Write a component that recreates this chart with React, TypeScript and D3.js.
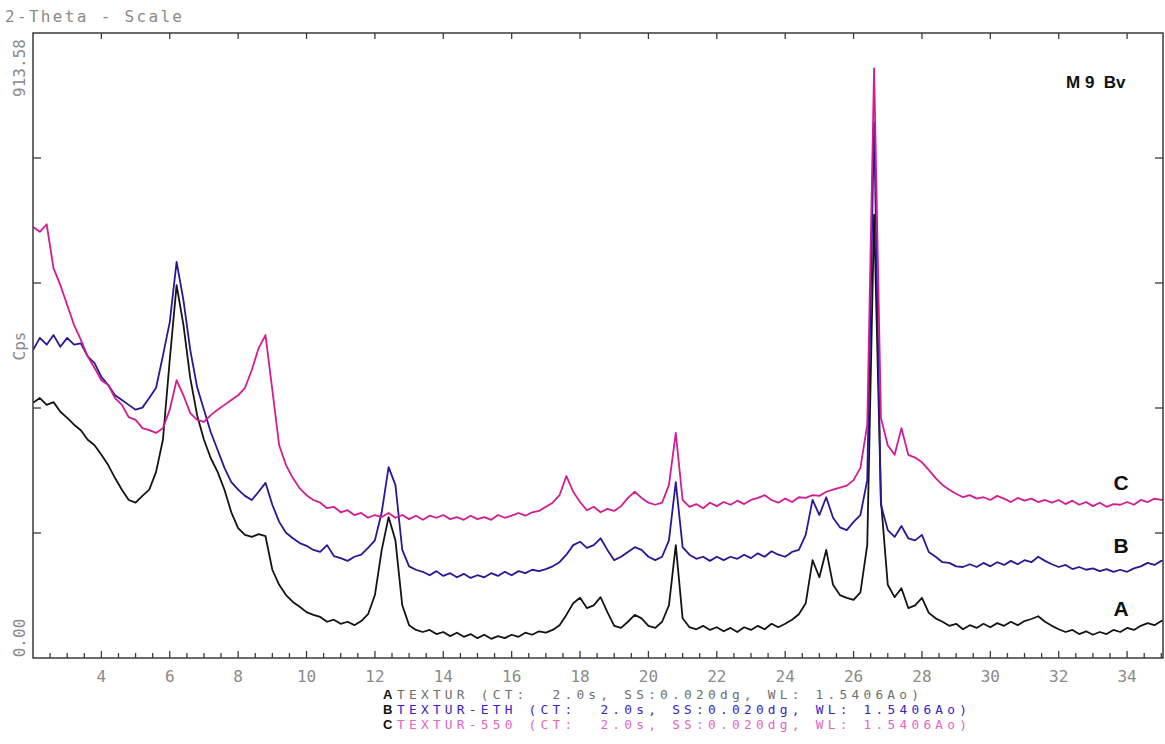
import React from "react";
import * as d3 from "d3";

// 2-theta grid (degrees)
const THETA_START = 2.0;
const THETA_STEP = 0.2;

// Intensities (Cps), one value per grid step, grouped by whole degree
const seriesA = [
  373, 380, 370, 374, 360,
  351, 341, 333, 319, 311,
  297, 282, 263, 246, 231,
  227, 237, 246, 272, 319,
  436, 545, 487, 409, 355,
  319, 292, 272, 246, 213,
  190, 180, 177, 181, 178,
  129, 107, 92, 82, 75,
  67, 63, 60, 53, 56,
  50, 53, 48, 54, 64,
  92, 158, 206, 172, 77,
  48, 41, 38, 41, 35,
  38, 32, 37, 31, 35,
  29, 34, 28, 32, 29,
  34, 31, 37, 34, 39,
  37, 41, 48, 63, 80,
  88, 73, 77, 89, 67,
  47, 44, 53, 63, 58,
  47, 44, 53, 77, 165,
  58, 45, 42, 47, 41,
  45, 39, 44, 38, 45,
  41, 47, 42, 50, 45,
  50, 56, 64, 80, 143,
  118, 158, 107, 92, 88,
  85, 96, 165, 648, 231,
  107, 89, 102, 73, 77,
  88, 66, 58, 53, 47,
  50, 42, 48, 44, 50,
  45, 51, 47, 53, 48,
  54, 57, 61, 53, 47,
  42, 38, 41, 35, 39,
  34, 38, 35, 41, 38,
  44, 41, 47, 51, 48,
  54, 56,
];

const seriesB = [
  450, 468, 458, 472, 455,
  468, 458, 460, 441, 431,
  411, 399, 384, 377, 370,
  363, 366, 380, 395, 442,
  491, 579, 523, 450, 396,
  363, 330, 304, 278, 257,
  246, 237, 231, 243, 256,
  224, 199, 183, 175, 168,
  164, 158, 155, 165, 149,
  146, 142, 148, 151, 161,
  172, 213, 279, 253, 158,
  134, 129, 126, 121, 127,
  120, 124, 118, 123, 117,
  121, 118, 124, 120, 126,
  121, 127, 124, 129, 127,
  130, 134, 140, 151, 165,
  170, 161, 165, 175, 158,
  143, 148, 155, 162, 158,
  148, 143, 148, 172, 257,
  162, 151, 145, 148, 142,
  148, 143, 148, 145, 151,
  146, 153, 148, 156, 151,
  148, 155, 158, 180, 231,
  209, 235, 205, 191, 187,
  199, 209, 260, 783, 224,
  187, 177, 193, 175, 172,
  180, 155, 148, 140, 139,
  134, 133, 137, 133, 139,
  134, 140, 136, 142, 137,
  143, 140, 148, 142, 137,
  133, 136, 130, 133, 129,
  131, 127, 130, 126, 129,
  126, 131, 134, 139, 136,
  142, 143,
];

const seriesC = [
  630, 623, 634, 570, 545,
  516, 487, 465, 441, 424,
  406, 399, 380, 370, 352,
  348, 336, 333, 329, 336,
  363, 406, 384, 358, 348,
  345, 355, 363, 370, 377,
  384, 395, 421, 453, 472,
  392, 311, 282, 263, 248,
  238, 231, 227, 219, 221,
  213, 216, 209, 212, 205,
  209, 206, 212, 205, 209,
  203, 208, 202, 208, 205,
  209, 203, 206, 202, 208,
  203, 206, 202, 209, 205,
  208, 212, 208, 213, 215,
  221, 227, 238, 266, 243,
  228, 216, 221, 213, 218,
  215, 222, 234, 243, 234,
  227, 224, 227, 253, 329,
  231, 221, 225, 219, 227,
  222, 228, 224, 230, 225,
  231, 234, 238, 231, 227,
  233, 228, 235, 234, 238,
  237, 243, 246, 249, 252,
  260, 278, 341, 862, 351,
  311, 297, 336, 297, 293,
  286, 275, 263, 253, 246,
  240, 235, 238, 233, 235,
  231, 237, 233, 228, 234,
  230, 233, 228, 231, 227,
  231, 225, 230, 224, 228,
  222, 227, 221, 225, 224,
  228, 224, 231, 228, 233,
  231, 234,
];

const xLabels = [4, 6, 8, 10, 12, 14, 16, 18, 20, 22, 24, 26, 28, 30, 32, 34];
const yMax = 913.58;
const seriesNames = ["A", "B", "C"];
const legendTexts = [
  "TEXTUR (CT:  2.0s, SS:0.020dg, WL: 1.5406Ao)",
  "TEXTUR-ETH (CT:  2.0s, SS:0.020dg, WL: 1.5406Ao)",
  "TEXTUR-550 (CT:  2.0s, SS:0.020dg, WL: 1.5406Ao)",
];

const LINE_COLORS = ["#141414", "#2a1796", "#d11c93"];
const LEGEND_COLORS = ["#6e6e6e", "#3a22c4", "#e066c4"];
const GRAY = "#8a8a8a";
const MONO = "'DejaVu Sans Mono', monospace";
const SANS = "'Liberation Sans', Arial, sans-serif";

export default function App() {
  const L = 33, R = 1163, T = 33, B = 658;
  const x = d3.scaleLinear().domain([2, 35.05]).range([L, R]);
  const y = d3.scaleLinear().domain([0, yMax]).range([B, T]);
  const theta = (i: number) => THETA_START + i * THETA_STEP;
  const line = d3
    .line<number>()
    .x((_, i) => x(theta(i)))
    .y((d) => y(d));

  const minorTicks = d3.range(2.5, 35.01, 0.5);
  const yTicks = d3.range(1, 5).map((i) => (i * yMax) / 5);
  const series = [seriesA, seriesB, seriesC];
  const legendLengths = [522, 570, 570];

  return (
    <svg
      width={1165}
      height={744}
      style={{ position: "absolute", left: 0, top: 0, background: "#fff" }}
    >
      <defs>
        <clipPath id="plot">
          <rect x={L} y={T - 2} width={R - L} height={B - T + 2} />
        </clipPath>
      </defs>
      <rect x={0} y={0} width={1165} height={744} fill="#fff" />

      <text x={5} y={22} fontFamily={MONO} fontSize={16} fill={GRAY} textLength={177} lengthAdjust="spacing">
        2-Theta - Scale
      </text>

      {/* series */}
      <g clipPath="url(#plot)">
        {series.map((s, k) => (
          <path
            key={k}
            d={line(s) || ""}
            fill="none"
            stroke={LINE_COLORS[k]}
            strokeWidth={1.8}
            strokeLinejoin="round"
          />
        ))}
      </g>

      {/* frame */}
      <rect x={L} y={T} width={R - L} height={B - T} fill="none" stroke="#3a3a3a" strokeWidth={1.5} />

      {/* bottom ticks */}
      {minorTicks.map((t) => (
        <line
          key={"m" + t}
          x1={x(t)}
          x2={x(t)}
          y1={B}
          y2={B - (t % 2 === 0 ? 7 : 5)}
          stroke="#3a3a3a"
          strokeWidth={1.3}
        />
      ))}
      {/* top ticks */}
      {xLabels.map((t) => (
        <line key={"t" + t} x1={x(t)} x2={x(t)} y1={T} y2={T + 6} stroke="#3a3a3a" strokeWidth={1.3} />
      ))}
      {/* y ticks left/right */}
      {yTicks.map((v, i) => (
        <g key={"y" + i}>
          <line x1={L} x2={L + 8} y1={y(v)} y2={y(v)} stroke="#3a3a3a" strokeWidth={1.3} />
          <line x1={R} x2={R - 8} y1={y(v)} y2={y(v)} stroke="#3a3a3a" strokeWidth={1.3} />
        </g>
      ))}

      {/* x labels */}
      {xLabels.map((t) => (
        <text
          key={"xl" + t}
          x={x(t)}
          y={682}
          textAnchor="middle"
          fontFamily={MONO}
          fontSize={16}
          fill={GRAY}
        >
          {t}
        </text>
      ))}

      {/* y labels (rotated) */}
      <text
        transform={`translate(19, ${y(yMax) + 35}) rotate(-90)`}
        textAnchor="middle"
        dominantBaseline="central"
        fontFamily={MONO}
        fontSize={16}
        fill={GRAY}
      >
        {yMax.toFixed(2)}
      </text>
      <text
        transform={`translate(19, ${y(0) - 20}) rotate(-90)`}
        textAnchor="middle"
        dominantBaseline="central"
        fontFamily={MONO}
        fontSize={16}
        fill={GRAY}
      >
        {(0).toFixed(2)}
      </text>
      <text
        transform="translate(19, 346) rotate(-90)"
        textAnchor="middle"
        dominantBaseline="central"
        fontFamily={MONO}
        fontSize={16}
        fill={GRAY}
      >
        Cps
      </text>

      {/* sample label */}
      <text
        x={1066}
        y={88}
        fontFamily={SANS}
        fontWeight="bold"
        fontSize={17}
        fill="#111"
        style={{ whiteSpace: "pre" }}
      >
        M 9  Bv
      </text>

      {/* curve letters */}
      {seriesNames.map((n, k) => (
        <text
          key={"cl" + n}
          x={1121}
          y={[616, 553, 490][k]}
          textAnchor="middle"
          fontFamily={SANS}
          fontWeight="bold"
          fontSize={21}
          fill="#111"
        >
          {n}
        </text>
      ))}

      {/* legend */}
      {seriesNames.map((n, k) => (
        <g key={"lg" + n}>
          <text x={383} y={699 + k * 15} fontFamily={SANS} fontWeight="bold" fontSize={13} fill="#111">
            {n}
          </text>
          <text
            x={397}
            y={699 + k * 15}
            fontFamily={MONO}
            fontSize={12.8}
            fill={LEGEND_COLORS[k]}
            textLength={legendLengths[k]}
            lengthAdjust="spacing"
            style={{ whiteSpace: "pre" }}
          >
            {legendTexts[k]}
          </text>
        </g>
      ))}
    </svg>
  );
}
